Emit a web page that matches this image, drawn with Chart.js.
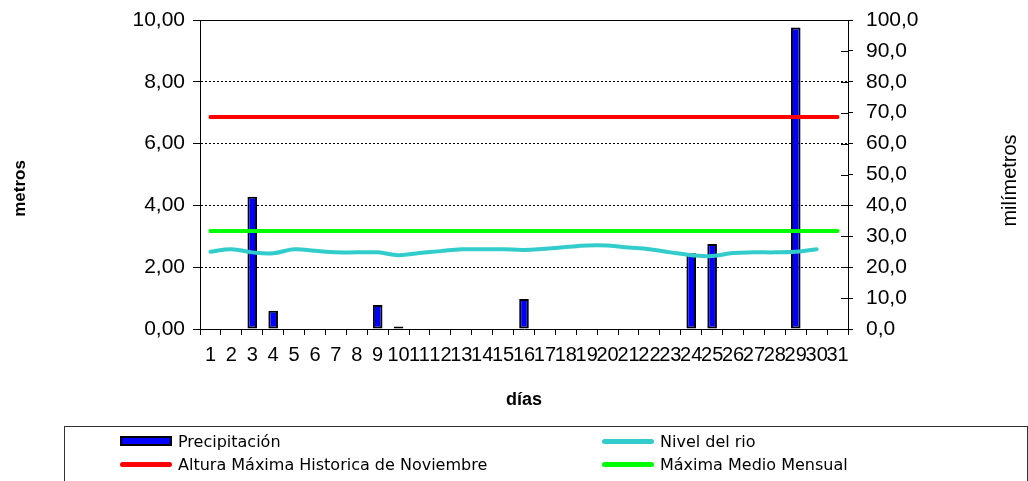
<!DOCTYPE html>
<html>
<head>
<meta charset="utf-8">
<title>Precipitación y nivel del rio - Noviembre</title>
<script src="https://cdn.jsdelivr.net/npm/chart.js@4.4.1/dist/chart.umd.min.js"></script>
<style>
    html, body { margin: 0; padding: 0; background: #fff; }
    #wrap { position: relative; width: 1028px; height: 481px; overflow: hidden; }
    #grafico { position: absolute; left: 0; top: 0; }
    #leyenda {
        position: absolute; left: 64px; top: 426px; width: 962px; height: 80px;
        border: 1px solid #333; font-family: "DejaVu Sans", sans-serif; font-size: 16px; color: #000;
    }
    .item { position: absolute; display: flex; align-items: center; height: 20px; white-space: nowrap; }
    .swatch { width: 52px; margin-right: 6px; box-sizing: border-box; }
</style>
</head>
<body>
<div id="wrap">
    <canvas id="grafico" width="1028" height="481"></canvas>
    <div id="leyenda"></div>
</div>
<script>
/*
  Precipitación diaria (mm) y nivel del rio (m) - Noviembre
*/

const dias = Array.from({ length: 31 }, (_, i) => String(i + 1));

// mm, eje derecho
const precipitacion = [null, null, 42.8, 5.9, null, null, null, null, 7.8, 0.8,
    null, null, null, null, null, 9.7, null, null, null, null,
    null, null, null, 24.5, 27.5, null, null, null, 97.6, null, null];

// metros, eje izquierdo
const nivelRio = [2.50, 2.58, 2.48, 2.45, 2.58, 2.53, 2.48, 2.48, 2.48, 2.39,
    2.46, 2.52, 2.58, 2.58, 2.58, 2.56, 2.60, 2.65, 2.70, 2.70,
    2.64, 2.58, 2.48, 2.39, 2.36, 2.46, 2.48, 2.48, 2.50, 2.58, null];

const alturaMaximaHistorica = 6.86;
const maximaMedioMensual = 3.17;

const metrosTicks = [0, 2, 4, 6, 8, 10];
const milimetrosTicks = [0, 10, 20, 30, 40, 50, 60, 70, 80, 90, 100];

const tituloX = "días";
const tituloIzq = "metros";
const tituloDer = "milímetros";

const fuente = '"Liberation Sans", Arial, sans-serif';

Chart.defaults.font.family = fuente;
Chart.defaults.color = "#000";

// titulos de los ejes verticales y marcas interiores del eje derecho
const extrasEjes = {
    id: "extrasEjes",
    afterDraw(chart) {
        const { ctx, chartArea, scales } = chart;
        ctx.save();
        ctx.strokeStyle = "#000";
        ctx.lineWidth = 1;
        scales.mm.ticks.forEach(t => {
            const y = Math.round(scales.mm.getPixelForValue(t.value)) + 0.5;
            ctx.beginPath();
            ctx.moveTo(chartArea.right - 7, y);
            ctx.lineTo(chartArea.right, y);
            ctx.stroke();
        });

        const medio = (chartArea.top + chartArea.bottom) / 2;
        ctx.fillStyle = "#000";
        ctx.textAlign = "center";
        ctx.textBaseline = "middle";

        ctx.save();
        ctx.font = "bold 17px " + fuente;
        ctx.translate(20, medio + 14);
        ctx.rotate(-Math.PI / 2);
        ctx.fillText(tituloIzq, 0, 0);
        ctx.restore();

        ctx.save();
        ctx.font = "20px " + fuente;
        ctx.translate(chart.width - 18, medio + 6);
        ctx.rotate(-Math.PI / 2);
        ctx.fillText(tituloDer, 0, 0);
        ctx.restore();

        ctx.restore();
    }
};

// los ejes verticales no reservan margen extra arriba/abajo
function sinRelleno(scale) {
    scale.paddingTop = 0;
    scale.paddingBottom = 0;
}

const chart = new Chart(document.getElementById("grafico"), {
    type: "bar",
    data: {
        labels: dias,
        datasets: [
            {
                type: "bar",
                label: "Precipitación",
                data: precipitacion,
                yAxisID: "mm",
                backgroundColor: "#0000FF",
                borderColor: "#000000",
                borderWidth: 2,
                borderSkipped: false,
                barPercentage: 0.46,
                categoryPercentage: 1.0,
                order: 2
            },
            {
                type: "line",
                label: "Nivel del rio",
                data: nivelRio,
                yAxisID: "y",
                borderColor: "#33CCCC",
                borderWidth: 4,
                borderCapStyle: "round",
                pointRadius: 0,
                tension: 0.4,
                fill: false,
                order: 1
            },
            {
                type: "line",
                label: "Altura Máxima Historica de Noviembre",
                data: dias.map(() => alturaMaximaHistorica),
                yAxisID: "y",
                borderColor: "#FF0000",
                borderWidth: 4,
                borderCapStyle: "round",
                pointRadius: 0,
                fill: false,
                order: 1
            },
            {
                type: "line",
                label: "Máxima Medio Mensual",
                data: dias.map(() => maximaMedioMensual),
                yAxisID: "y",
                borderColor: "#00FF00",
                borderWidth: 4,
                borderCapStyle: "round",
                pointRadius: 0,
                fill: false,
                order: 1
            }
        ]
    },
    options: {
        responsive: false,
        animation: false,
        devicePixelRatio: 1,
        layout: {
            padding: { top: 20, bottom: 61, left: 0, right: 0 }
        },
        plugins: {
            legend: { display: false },
            tooltip: { enabled: false }
        },
        scales: {
            x: {
                afterFit(scale) { scale.height = 91; },
                grid: {
                    display: true,
                    drawOnChartArea: false,
                    color: "#000",
                    tickLength: 6,
                    offset: true
                },
                border: { color: "#000", width: 1 },
                ticks: {
                    font: { size: 20 },
                    padding: 8,
                    maxRotation: 0,
                    minRotation: 0,
                    autoSkip: false
                },
                title: {
                    display: true,
                    text: tituloX,
                    font: { size: 18, weight: "bold" },
                    padding: { top: 0, bottom: 9 }
                }
            },
            y: {
                position: "left",
                min: metrosTicks[0],
                max: metrosTicks[metrosTicks.length - 1],
                afterFit(scale) { scale.width = 200; sinRelleno(scale); },
                afterBuildTicks(scale) { scale.ticks = metrosTicks.map(v => ({ value: v })); },
                grid: {
                    color: c => (c.tick && c.tick.value > 0 && c.tick.value < 10) ? "#000" : "rgba(0,0,0,0)",
                    tickColor: "#000",
                    tickLength: 7,
                    lineWidth: 1
                },
                border: { color: "#000", width: 1, dash: [2, 2] },
                ticks: {
                    font: { size: 21 },
                    padding: 8,
                    callback: v => v.toFixed(2).replace(".", ",")
                }
            },
            mm: {
                position: "right",
                min: milimetrosTicks[0],
                max: milimetrosTicks[milimetrosTicks.length - 1],
                afterFit(scale) { scale.width = 180; sinRelleno(scale); },
                afterBuildTicks(scale) { scale.ticks = milimetrosTicks.map(v => ({ value: v })); },
                grid: {
                    color: c => (c.tick && c.tick.value === 100) ? "#000" : "rgba(0,0,0,0)",
                    tickColor: "#000",
                    tickLength: 5,
                    lineWidth: 1
                },
                border: { color: "#000", width: 1 },
                ticks: {
                    font: { size: 21 },
                    padding: 13,
                    callback: v => v.toFixed(1).replace(".", ",")
                }
            }
        }
    },
    plugins: [extrasEjes]
});

// leyenda en html, dos columnas
const posiciones = [
    { left: 55, top: 4 },
    { left: 537, top: 4 },
    { left: 55, top: 27 },
    { left: 537, top: 27 }
];

const leyenda = document.getElementById("leyenda");

chart.data.datasets.forEach((ds, i) => {
    const item = document.createElement("div");
    item.className = "item";
    item.style.left = posiciones[i].left + "px";
    item.style.top = posiciones[i].top + "px";

    const swatch = document.createElement("span");
    swatch.className = "swatch";
    if (ds.type === "bar") {
        swatch.style.height = "10px";
        swatch.style.background = ds.backgroundColor;
        swatch.style.border = "2px solid #000";
    } else {
        swatch.style.height = "5px";
        swatch.style.background = ds.borderColor;
        swatch.style.borderRadius = "3px";
    }

    const texto = document.createElement("span");
    texto.textContent = ds.label;

    item.appendChild(swatch);
    item.appendChild(texto);
    leyenda.appendChild(item);
});
</script>
</body>
</html>
